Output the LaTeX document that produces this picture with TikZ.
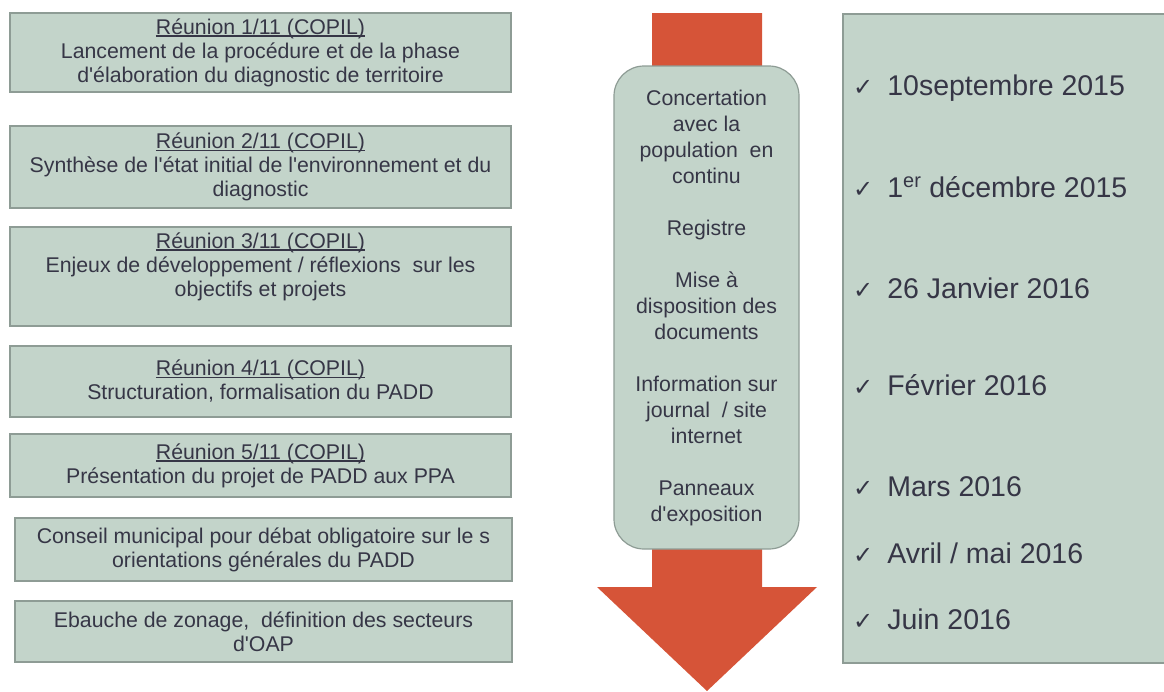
\documentclass[tikz,border=0pt]{standalone}
\usepackage{fontspec}
\setmainfont{Liberation Sans}[Ligatures=TeXOff]
\newfontfamily\chkfont{DejaVu Sans}
\definecolor{boxfill}{HTML}{C3D4CA}
\definecolor{boxline}{HTML}{8E9C95}
\definecolor{txt}{HTML}{363646}
\definecolor{arrowred}{HTML}{D65438}
\tikzset{
  lbox/.style={draw=boxline, line width=1.5pt, fill=boxfill, inner sep=0pt, outer sep=0pt,
    align=center, text=txt, font=\fontsize{21.3}{24}\selectfont},
  ltext/.style={inner sep=0pt, align=center, text=txt, font=\fontsize{21.3}{24}\selectfont},
  cbox/.style={draw=boxline, line width=1.2pt, fill=boxfill, rounded corners=30pt, inner sep=0pt,
    align=center, text=txt, font=\fontsize{21.3}{26}\selectfont, minimum width=185pt, minimum height=483pt},
  dateitem/.style={anchor=base west, inner sep=0pt, text=txt, font=\fontsize{28.5}{32}\selectfont},
}
\newcommand{\chk}{{\chkfont\fontsize{24}{28}\selectfont ✓}\hspace{14pt}}
\newcommand{\ulr}[1]{\setbox0\hbox{#1}\rlap{\rule[-2.5pt]{\wd0}{1.3pt}}\box0}
\begin{document}
\begin{tikzpicture}[x=1pt,y=-1pt]
\useasboundingbox (0,0) rectangle (1164,691);
\clip (0,0) rectangle (1164,691);
% left boxes
\node[lbox, minimum width=501pt, minimum height=79pt] (r1) at (260.5,52.5)
  {\ulr{Réunion 1/11 (COPIL)}\\Lancement de la procédure et de la phase\\d'élaboration du diagnostic de territoire};
\node[lbox, minimum width=501pt, minimum height=82pt] (r2) at (260.5,167)
  {\ulr{Réunion 2/11 (COPIL)}\\Synthèse de l'état initial de l'environnement et du\\diagnostic};
\node[lbox, minimum width=501pt, minimum height=99pt] (r3) at (260.5,276.5) {};
\node[ltext] (r3t) at (260.5,266.5)
  {\ulr{Réunion 3/11 (COPIL)}\\Enjeux de développement / réflexions\ \ sur les\\objectifs et projets};
\node[lbox, minimum width=501pt, minimum height=71pt] (r4) at (260.5,381.5)
  {\ulr{Réunion 4/11 (COPIL)}\\Structuration, formalisation du PADD};
\node[lbox, minimum width=501pt, minimum height=63pt] (r5) at (260.5,465.5)
  {\ulr{Réunion 5/11 (COPIL)}\\Présentation du projet de PADD aux PPA};
\node[lbox, minimum width=497pt, minimum height=63pt] (cm) at (263.5,549.5)
  {Conseil municipal pour débat obligatoire sur le s\\orientations générales du PADD};
\node[lbox, minimum width=497pt, minimum height=61pt] (ez) at (263.5,631.5)
  {Ebauche de zonage,\ \ définition des secteurs\\d'OAP};
% central arrow
\fill[arrowred] (652,13) -- (762,13) -- (762,587) -- (817,587) -- (707,691) -- (597,587) -- (652,587) -- cycle;
\node[cbox] (conc) at (706.5,307.5)
  {Concertation\\avec la\\population\ \ en\\continu\\[26pt]Registre\\[26pt]Mise à\\disposition des\\documents\\[26pt]Information sur\\journal\ \ / site\\internet\\[26pt]Panneaux\\d'exposition};
% right panel
\node[draw=boxline, line width=1.5pt, fill=boxfill, inner sep=0pt, minimum width=330pt, minimum height=649pt, anchor=north west] (panel) at (842,13) {};
\node[dateitem] (d1) at (853,95) {\chk 10septembre 2015};
\node[dateitem] (d2) at (853,197) {\chk 1\textsuperscript{er} décembre 2015};
\node[dateitem] (d3) at (853,298) {\chk 26 Janvier 2016};
\node[dateitem] (d4) at (853,395) {\chk Février 2016};
\node[dateitem] (d5) at (853,496) {\chk Mars 2016};
\node[dateitem] (d6) at (853,563) {\chk Avril / mai 2016};
\node[dateitem] (d7) at (853,629) {\chk Juin 2016};
\end{tikzpicture}
\end{document}
